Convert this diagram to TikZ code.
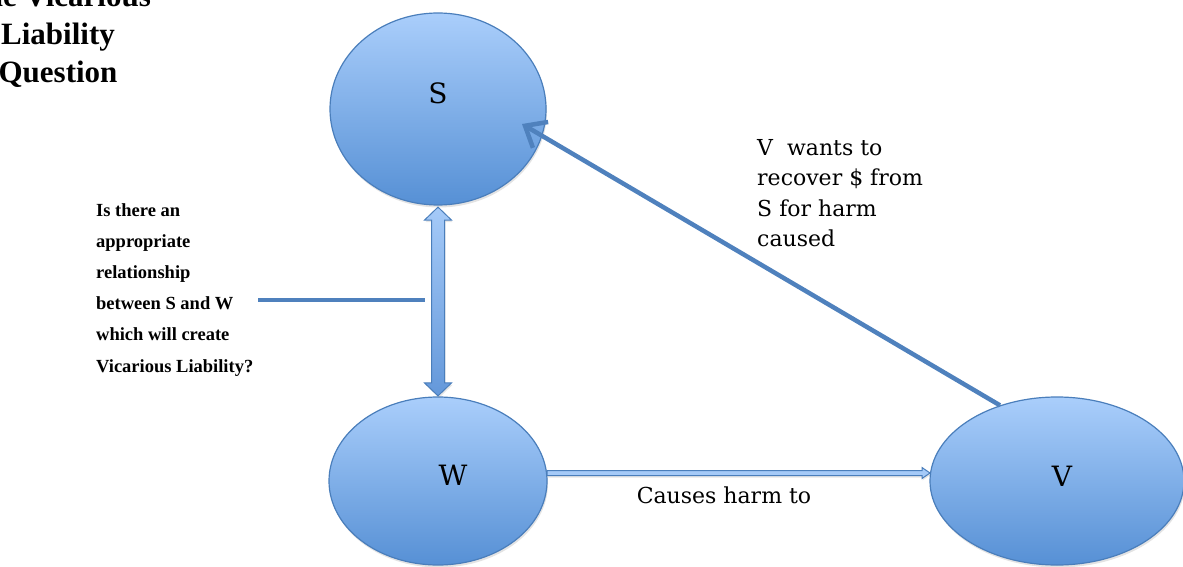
\documentclass[tikz,border=0pt]{standalone}
\usepackage{fontspec}
\setmainfont{DejaVu Serif}
\newfontfamily\titlefont{Liberation Serif}
\usetikzlibrary{shapes.geometric,arrows.meta,calc,shadows}
\definecolor{bord}{RGB}{74,126,187}
\definecolor{topc}{RGB}{170,206,251}
\definecolor{botc}{RGB}{86,144,213}
\definecolor{linec}{RGB}{79,129,189}
\definecolor{arrtop}{RGB}{165,202,248}
\definecolor{arrbot}{RGB}{100,152,218}
\begin{document}
\begin{tikzpicture}[x=1pt,y=1pt,
  blob/.style={ellipse, draw=bord, line width=1.2pt, top color=topc, bottom color=botc, inner sep=0pt,
    drop shadow={opacity=0.22,shadow xshift=1pt,shadow yshift=-2.5pt}},
  blobtext/.style={font=\fontsize{28}{32}\selectfont, inner sep=0pt},
  blockarrow/.style={draw=bord, line width=1pt, top color=arrtop, bottom color=arrbot,
    drop shadow={opacity=0.2,shadow xshift=1pt,shadow yshift=-2pt}},
  thinarrow/.style={draw=bord, line width=1pt, fill=arrtop,
    drop shadow={opacity=0.2,shadow xshift=0.5pt,shadow yshift=-2pt}},
  diagline/.style={draw=linec, line width=4.5pt, -{Straight Barb[length=18pt,width=30pt]}},
  pointer/.style={draw=linec, line width=4.5pt},
  plain/.style={font=\fontsize{22}{30.5}\selectfont, inner sep=0pt, align=left},
  boldtext/.style={font=\titlefont\bfseries\fontsize{18.5}{31.2}\selectfont, inner sep=0pt, align=left},
  titletext/.style={font=\titlefont\bfseries\fontsize{31}{38}\selectfont, inner sep=0pt, align=center}
]
\clip (0,0) rectangle (1183,566);
\useasboundingbox (0,0) rectangle (1183,566);

% ellipses
\node[blob, minimum width=216, minimum height=192] (S) at (438,457) {};
\node[blob, minimum width=218, minimum height=168] (W) at (438,85) {};
\node[blob, minimum width=254, minimum height=168] (V) at (1057,85) {};

\node[blobtext] (St) at ($(S.center)+(0,16)$) {S};
\node[blobtext] (Wt) at ($(W.center)+(15,6)$) {W};
\node[blobtext] (Vt) at ($(V.center)+(5,5)$) {V};

% vertical double block arrow S <-> W
\path[blockarrow] let \p1=($(S.south)+(0,-1.5)$), \p2=($(W.north)+(0,0.5)$) in
  (\p1) -- (\x1+13.5pt,\y1-13pt) -- (\x1+6.5pt,\y1-13pt) -- (\x1+6.5pt,\y2+13pt)
  -- (\x1+13.5pt,\y2+13pt) -- (\p2) -- (\x1-13.5pt,\y2+13pt) -- (\x1-6.5pt,\y2+13pt)
  -- (\x1-6.5pt,\y1-13pt) -- (\x1-13.5pt,\y1-13pt) -- cycle;

% W -> V thin block arrow
\path[thinarrow] let \p1=($(W.east)+(-0.5,8)$), \p2=($(V.west)+(0.6,8)$) in
  (\x1,\y1+2.5pt) -- (\x2-8pt,\y1+2.5pt) -- (\x2-8pt,\y1+5.5pt) -- (\p2)
  -- (\x2-8pt,\y1-5.5pt) -- (\x2-8pt,\y1-2.5pt) -- (\x1,\y1-2.5pt) -- cycle;

% V -> S
\draw[diagline] (V.127) -- ($(S.center)+(84,-15)$);

% pointer line from question text
\coordinate (P1) at (258,266);
\coordinate (P2) at (425,266);
\draw[pointer] (P1) -- (P2);

% texts
\node[plain, anchor=north west] (recover) at (757,427) {V\ \ wants to\\recover \$ from\\S for harm\\caused};
\node[plain, anchor=center] (causes) at (724,71) {Causes harm to};
\node[boldtext, anchor=north west] (question) at (96,363) {Is there an\\appropriate\\relationship\\between S and W\\which will create\\Vicarious Liability?};
\node[titletext, anchor=north] (title) at (58,581) {The Vicarious\\Liability\\Question};
\end{tikzpicture}
\end{document}
